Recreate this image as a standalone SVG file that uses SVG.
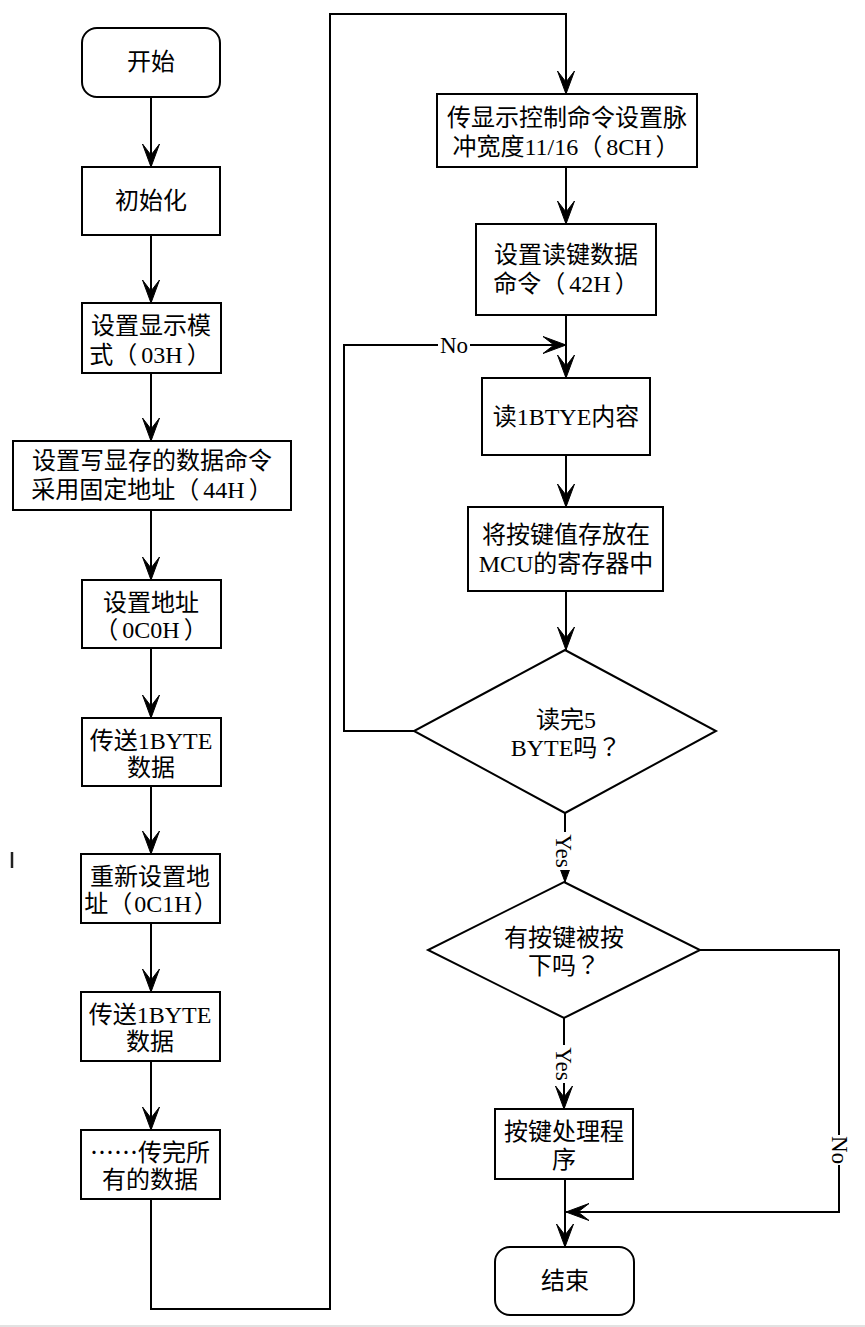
<svg xmlns="http://www.w3.org/2000/svg" width="865" height="1327" viewBox="0 0 865 1327">
<style>
.box{fill:#fff;stroke:#000;stroke-width:2}
text{font-family:"Noto Sans CJK SC","Noto Sans",sans-serif;font-size:24px;fill:#000;text-anchor:middle}
.l{font-family:"Liberation Serif",serif;font-size:24px}
.p{font-family:"Noto Sans CJK TC","Noto Sans CJK SC",sans-serif}
.lbl{font-family:"Liberation Serif",serif;font-size:23px}
.c{fill:none;stroke:#000;stroke-width:2}
.bg{fill:#fff;stroke:none}
</style>
<defs>
<marker id="arr" markerUnits="userSpaceOnUse" markerWidth="30" markerHeight="30" viewBox="-25 -15 30 30" refX="0" refY="0" orient="auto">
<path d="M0,0 L-23,-8.5 L-12,0 L-23,8.5 Z" fill="#000" stroke="#000" stroke-width="1" stroke-linejoin="miter"/>
</marker>
</defs>
<rect x="0" y="0" width="865" height="1327" fill="#fff"/>
<rect x="0" y="1325" width="865" height="2" fill="#e2e2e2"/>
<line x1="12" y1="852" x2="12" y2="868" stroke="#222" stroke-width="2.5"/>

<g id="connectors">
<line class="c" x1="151" y1="97" x2="151" y2="167" marker-end="url(#arr)"/>
<line class="c" x1="151" y1="235" x2="151" y2="303" marker-end="url(#arr)"/>
<line class="c" x1="151" y1="373" x2="151" y2="441" marker-end="url(#arr)"/>
<line class="c" x1="151" y1="510" x2="151" y2="580" marker-end="url(#arr)"/>
<line class="c" x1="151" y1="648" x2="151" y2="718" marker-end="url(#arr)"/>
<line class="c" x1="151" y1="786" x2="151" y2="854" marker-end="url(#arr)"/>
<line class="c" x1="151" y1="923" x2="151" y2="992" marker-end="url(#arr)"/>
<line class="c" x1="151" y1="1061" x2="151" y2="1130" marker-end="url(#arr)"/>
<polyline class="c" points="151,1199 151,1309 330,1309 330,14 566,14 566,94" marker-end="url(#arr)"/>
<line class="c" x1="566" y1="14" x2="566" y2="80" stroke-width="3"/>
<line class="c" x1="566" y1="167" x2="566" y2="224" marker-end="url(#arr)"/>
<line class="c" x1="566" y1="315" x2="566" y2="378" marker-end="url(#arr)"/>
<line class="c" x1="566" y1="455" x2="566" y2="507" marker-end="url(#arr)"/>
<line class="c" x1="566" y1="591" x2="566" y2="650" marker-end="url(#arr)"/>
<polyline class="c" points="414,731 344,731 344,345 566,345" marker-end="url(#arr)"/>
<rect class="bg" x="438" y="334" width="32" height="22"/>
<text class="lbl" x="454" y="353">No</text>
<line class="c" x1="565" y1="813" x2="565" y2="882" marker-end="url(#arr)"/>
<g transform="translate(563,851) rotate(90)">
<rect class="bg" x="-19" y="-11" width="38" height="22"/>
<text class="lbl" x="0" y="7">Yes</text>
</g>
<line class="c" x1="564" y1="1018" x2="564" y2="1109" marker-end="url(#arr)"/>
<g transform="translate(563,1064) rotate(90)">
<rect class="bg" x="-19" y="-11" width="38" height="22"/>
<text class="lbl" x="0" y="7">Yes</text>
</g>
<polyline class="c" points="700,950 839,950 839,1212 566,1212" marker-end="url(#arr)"/>
<g transform="translate(839,1150) rotate(90)">
<rect class="bg" x="-15" y="-11" width="30" height="22"/>
<text class="lbl" x="0" y="7">No</text>
</g>
<line class="c" x1="565" y1="1179" x2="565" y2="1247" marker-end="url(#arr)"/>
</g>

<g id="start"><rect class="box" x="82" y="28" width="138" height="69" rx="15"/><text x="151" y="70">开始</text></g>
<g id="init"><rect class="box" x="82" y="167" width="138" height="68"/><text x="151" y="209">初始化</text></g>
<g id="mode"><rect class="box" x="82" y="303" width="139" height="70"/><text x="151" y="334">设置显示模</text><text x="150" y="363">式<tspan class="p">（</tspan><tspan class="l" dx="4">03H</tspan><tspan class="p" dx="4">）</tspan></text></g>
<g id="datacmd"><rect class="box" x="13" y="441" width="278" height="69"/><text x="152" y="469">设置写显存的数据命令</text><text x="152" y="498">采用固定地址<tspan class="p">（</tspan><tspan class="l" dx="4">44H</tspan><tspan class="p" dx="4">）</tspan></text></g>
<g id="addr"><rect class="box" x="82" y="580" width="139" height="68"/><text x="151" y="611">设置地址</text><text x="151" y="638"><tspan class="p">（</tspan><tspan class="l" dx="4">0C0H</tspan><tspan class="p" dx="4">）</tspan></text></g>
<g id="send1"><rect class="box" x="82" y="718" width="139" height="68"/><text x="151" y="749">传送<tspan class="l">1BYTE</tspan></text><text x="151" y="776">数据</text></g>
<g id="readdr"><rect class="box" x="81" y="854" width="139" height="69"/><text x="150" y="885">重新设置地</text><text x="151" y="912">址<tspan class="p">（</tspan><tspan class="l" dx="2">0C1H</tspan><tspan class="p" dx="2">）</tspan></text></g>
<g id="send2"><rect class="box" x="81" y="992" width="139" height="69"/><text x="150" y="1023">传送<tspan class="l">1BYTE</tspan></text><text x="150" y="1050">数据</text></g>
<g id="sendall"><rect class="box" x="81" y="1130" width="139" height="69"/><text x="150" y="1161">……传完所</text><text x="150" y="1188">有的数据</text></g>

<g id="dispctl"><rect class="box" x="437" y="94" width="260" height="73"/><text x="567" y="126">传显示控制命令设置脉</text><text x="566" y="155">冲宽度<tspan class="l">11/16</tspan><tspan class="p">（</tspan><tspan class="l" dx="4">8CH</tspan><tspan class="p" dx="4">）</tspan></text></g>
<g id="readcmd"><rect class="box" x="476" y="224" width="180" height="91"/><text x="566" y="263">设置读键数据</text><text x="566" y="292">命令<tspan class="p">（</tspan><tspan class="l" dx="4">42H</tspan><tspan class="p" dx="4">）</tspan></text></g>
<g id="read1"><rect class="box" x="482" y="378" width="168" height="77"/><text x="566" y="425">读<tspan class="l">1BTYE</tspan>内容</text></g>
<g id="store"><rect class="box" x="468" y="507" width="195" height="84"/><text x="566" y="543">将按键值存放在</text><text x="566" y="572"><tspan class="l">MCU</tspan>的寄存器中</text></g>
<g id="done5"><polygon class="box" points="565,650 716,731 565,813 414,731"/><text x="566" y="728">读完<tspan class="l">5</tspan></text><text x="566" y="756"><tspan class="l">BYTE</tspan>吗<tspan class="p">？</tspan></text></g>
<g id="pressed"><polygon class="box" points="564,882 700,950 564,1018 428,950"/><text x="564" y="946">有按键被按</text><text x="564" y="974">下吗<tspan class="p">？</tspan></text></g>
<g id="handler"><rect class="box" x="495" y="1109" width="138" height="70"/><text x="564" y="1140">按键处理程</text><text x="564" y="1168">序</text></g>
<g id="end"><rect class="box" x="495" y="1247" width="139" height="68" rx="15"/><text x="565" y="1289">结束</text></g>
</svg>
